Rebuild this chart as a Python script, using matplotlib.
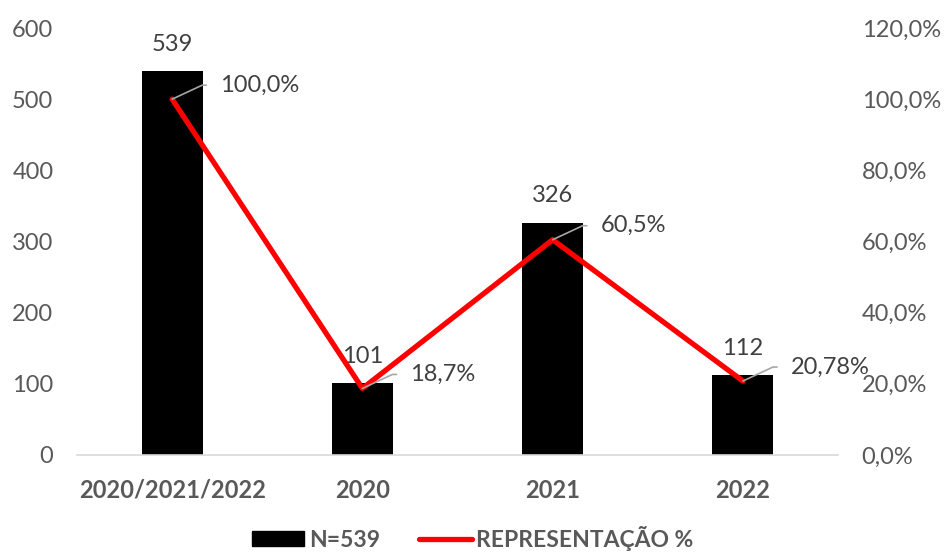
import matplotlib.pyplot as plt
from matplotlib.lines import Line2D
from matplotlib.patches import Patch
import numpy as np

categories = ["2020/2021/2022", "2020", "2021", "2022"]
counts = [539, 101, 326, 112]
percents = [100.0, 18.7, 60.5, 20.78]
percent_labels = ["100,0%", "18,7%", "60,5%", "20,78%"]

plt.rcParams['font.family'] = ['Lato', 'DejaVu Sans']

tick_color = '#595959'
label_color = '#404040'
fs = 17

fig = plt.figure(figsize=(9.45, 5.56), dpi=100)
ax = fig.add_axes([0.0815, 0.1817, 0.8053, 0.7679])
x = np.arange(len(categories))

ax.bar(x, counts, width=0.32, color='black', zorder=2)
for xi, v in zip(x, counts):
    ax.annotate(str(v), (xi, v), xytext=(0, 27), textcoords='offset pixels',
                ha='center', va='center', fontsize=fs, color=label_color)

ax.set_xlim(-0.5, len(categories) - 0.5)
ax.set_ylim(0, 600)
ax.set_yticks(range(0, 601, 100))
ax.set_xticks(x)
ax.set_xticklabels(categories, fontweight='bold', fontsize=fs, color=tick_color)
ax.tick_params(axis='y', labelsize=fs, labelcolor=tick_color, length=0, pad=17)
ax.tick_params(axis='x', length=0, pad=17)
for s in ['top', 'right', 'left']:
    ax.spines[s].set_visible(False)
ax.spines['bottom'].set_color('#d9d9d9')
ax.spines['bottom'].set_linewidth(1.2)

ax2 = ax.twinx()
ax2.plot(x, percents, color='#ff0000', linewidth=3.8, solid_capstyle='round', zorder=3)
ax2.set_ylim(0, 120)
ax2.set_yticks(range(0, 121, 20))
ax2.set_yticklabels([f"{t:.1f}%".replace('.', ',') for t in range(0, 121, 20)])
ax2.tick_params(axis='y', labelsize=fs, labelcolor=tick_color, length=0, pad=17)
for s in ax2.spines.values():
    s.set_visible(False)

for xi, p, lab in zip(x, percents, percent_labels):
    ax2.annotate(lab, (xi, p), xytext=(48, 14), textcoords='offset pixels',
                 ha='left', va='center', fontsize=fs, color=label_color,
                 arrowprops=dict(arrowstyle='-', color='#a6a6a6', lw=1.2,
                                 shrinkA=8, shrinkB=0,
                                 connectionstyle='angle,angleA=0,angleB=25,rad=0'))

handles = [Patch(facecolor='black', edgecolor='black'),
           Line2D([0], [0], color='#ff0000', linewidth=3.8, solid_capstyle='round')]
leg = fig.legend(handles, ['N=539', 'REPRESENTAÇÃO %'], loc='center',
                 bbox_to_anchor=(0.5, 0.032), ncol=2, frameon=False,
                 handlelength=2.3, handleheight=0.6, handletextpad=0.2,
                 columnspacing=1.7, borderpad=0.2,
                 prop={'size': 16.5, 'weight': 'bold'})
for t in leg.get_texts():
    t.set_color(tick_color)

fig.savefig('out.png', dpi=100)
